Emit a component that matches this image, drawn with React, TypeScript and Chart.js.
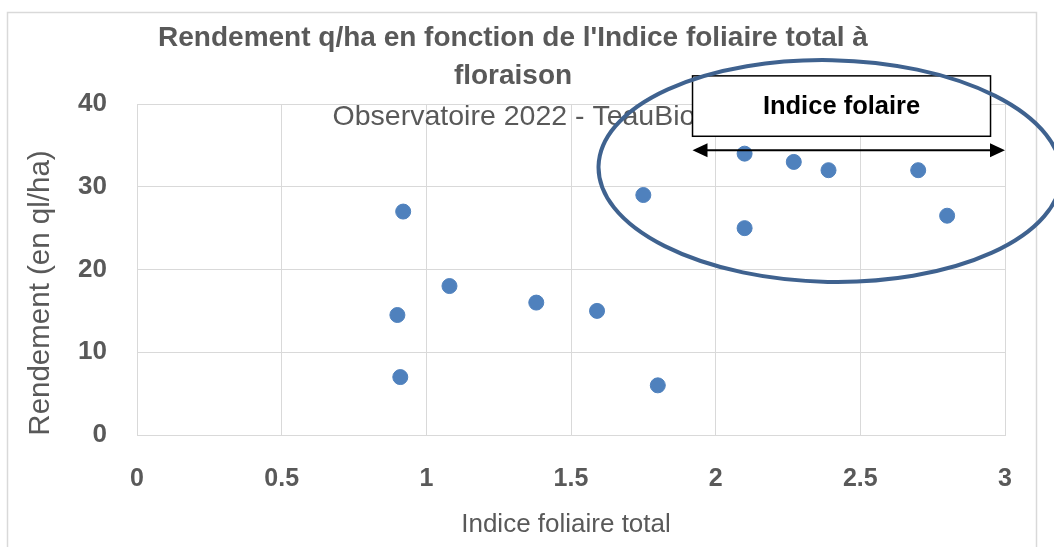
import React, { useEffect, useRef } from 'react';
import { Chart, registerables } from 'chart.js';

Chart.register(...registerables);

// ---- Data ----
const indiceFoliaire = [0.92, 0.9, 0.91, 1.08, 1.38, 1.59, 1.75, 1.8, 2.1, 2.1, 2.27, 2.39, 2.7, 2.8];
const rendement = [27, 14.5, 7, 18, 16, 15, 29, 6, 34, 25, 33, 32, 32, 26.5];
const xTickValues = [0, 0.5, 1, 1.5, 2, 2.5, 3];
const yTickValues = [0, 10, 20, 30, 40];
const titleLines = ["Rendement q/ha en fonction de l'Indice foliaire total à", 'floraison'];
const subtitleText = 'Observatoire 2022 - TeauBio';
const xAxisTitle = 'Indice foliaire total';
const yAxisTitle = 'Rendement (en ql/ha)';
const annotationLabel = 'Indice folaire';
// annotation extents in data units
const boxX = [1.92, 2.95];
const boxY = [36.1, 43.4];
const arrowX = [1.92, 3.0];
const arrowY = 34.4;
const ellipseCenter = [2.395, 31.9];
const ellipseRadii = [0.8, 13.4];

const GRAY = '#595959';
const GRID = '#d9d9d9';
const NARROW = "'Liberation Sans Narrow', 'Liberation Sans', Arial, sans-serif";
const SANS = "'Liberation Sans', Arial, sans-serif";

const overlayPlugin = {
  id: 'overlay',
  afterDraw(chart: any) {
    const ctx = chart.ctx as CanvasRenderingContext2D;
    const xs = chart.scales.x;
    const ys = chart.scales.y;
    ctx.save();
    // outer border
    ctx.strokeStyle = GRID;
    ctx.lineWidth = 1.5;
    ctx.strokeRect(7.5, 12.5, 1029, 700);

    // title
    ctx.fillStyle = GRAY;
    ctx.textAlign = 'center';
    ctx.textBaseline = 'middle';
    ctx.font = `bold 28px ${NARROW}`;
    ctx.fillText(titleLines[0], 513, 38);
    ctx.fillText(titleLines[1], 513, 76);
    ctx.font = `28.5px ${NARROW}`;
    ctx.fillText(subtitleText, 514, 117);

    // axis titles
    ctx.font = `26px ${NARROW}`;
    ctx.fillText(xAxisTitle, 566, 525);
    ctx.save();
    ctx.translate(41, 293);
    ctx.rotate(-Math.PI / 2);
    ctx.font = `29.5px ${NARROW}`;
    ctx.fillText(yAxisTitle, 0, 0);
    ctx.restore();

    // annotation box
    const bx0 = xs.getPixelForValue(boxX[0]);
    const bx1 = xs.getPixelForValue(boxX[1]);
    const by0 = ys.getPixelForValue(boxY[1]);
    const by1 = ys.getPixelForValue(boxY[0]);
    ctx.fillStyle = '#ffffff';
    ctx.fillRect(bx0, by0, bx1 - bx0, by1 - by0);
    ctx.strokeStyle = '#000000';
    ctx.lineWidth = 1.5;
    ctx.strokeRect(bx0, by0, bx1 - bx0, by1 - by0);
    ctx.fillStyle = '#000000';
    ctx.font = `bold 25.5px ${NARROW}`;
    ctx.fillText(annotationLabel, (bx0 + bx1) / 2, (by0 + by1) / 2 + 1);

    // double arrow
    const ax0 = xs.getPixelForValue(arrowX[0]);
    const ax1 = xs.getPixelForValue(arrowX[1]);
    const ay = ys.getPixelForValue(arrowY);
    const head = 15;
    ctx.lineWidth = 2;
    ctx.beginPath();
    ctx.moveTo(ax0 + head - 2, ay);
    ctx.lineTo(ax1 - head + 2, ay);
    ctx.stroke();
    ctx.beginPath();
    ctx.moveTo(ax0, ay);
    ctx.lineTo(ax0 + head, ay - 7);
    ctx.lineTo(ax0 + head, ay + 7);
    ctx.closePath();
    ctx.fill();
    ctx.beginPath();
    ctx.moveTo(ax1, ay);
    ctx.lineTo(ax1 - head, ay - 7);
    ctx.lineTo(ax1 - head, ay + 7);
    ctx.closePath();
    ctx.fill();

    // ellipse
    const ex = xs.getPixelForValue(ellipseCenter[0]);
    const ey = ys.getPixelForValue(ellipseCenter[1]);
    const rx = Math.abs(xs.getPixelForValue(ellipseCenter[0] + ellipseRadii[0]) - ex);
    const ry = Math.abs(ys.getPixelForValue(ellipseCenter[1] + ellipseRadii[1]) - ey);
    ctx.strokeStyle = '#3f628f';
    ctx.lineWidth = 4;
    ctx.beginPath();
    ctx.ellipse(ex, ey, rx, ry, 0.02, 0, Math.PI * 2);
    ctx.stroke();
    ctx.restore();
  },
};

export default function App() {
  const ref = useRef<HTMLCanvasElement | null>(null);
  useEffect(() => {
    if (!ref.current) return;
    const chart = new Chart(ref.current, {
      type: 'scatter',
      data: {
        datasets: [
          {
            label: 'Rendement',
            data: indiceFoliaire.map((x, i) => ({ x, y: rendement[i] })),
            backgroundColor: '#4f81bd',
            borderColor: '#4f81bd',
            pointRadius: 7.5,
            pointHoverRadius: 7.5,
          },
        ],
      },
      options: {
        animation: false,
        responsive: false,
        maintainAspectRatio: false,
        layout: { padding: { top: 104, right: 49, left: 0, bottom: 0 } },
        plugins: {
          legend: { display: false },
          tooltip: { enabled: false },
          title: { display: false },
        },
        scales: {
          x: {
            type: 'linear',
            min: 0,
            max: 3,
            afterBuildTicks: (s: any) => {
              s.ticks = xTickValues.map((v) => ({ value: v }));
            },
            afterFit: (s: any) => {
              s.height = 112;
            },
            ticks: {
              color: GRAY,
              font: { family: SANS, size: 25, weight: 'bold' },
              padding: 29,
              maxRotation: 0,
              callback: (v: any) => String(v),
            },
            grid: { color: GRID, drawTicks: false, tickLength: 0 },
            border: { display: true, color: GRID },
          },
          y: {
            type: 'linear',
            min: 0,
            max: 40,
            afterBuildTicks: (s: any) => {
              s.ticks = yTickValues.map((v) => ({ value: v }));
            },
            afterFit: (s: any) => {
              s.width = 137;
            },
            ticks: {
              color: GRAY,
              font: { family: SANS, size: 26, weight: 'bold' },
              padding: 30,
              callback: (v: any) => String(v),
            },
            grid: { color: GRID, drawTicks: false, tickLength: 0 },
            border: { display: true, color: GRID },
          },
        },
      },
      plugins: [overlayPlugin],
    } as any);
    return () => chart.destroy();
  }, []);
  return (
    <div style={{ position: 'fixed', left: 0, top: 0, width: 1054, height: 547, background: '#fff' }}>
      <canvas ref={ref} width={1054} height={547} style={{ width: 1054, height: 547 }} />
    </div>
  );
}
